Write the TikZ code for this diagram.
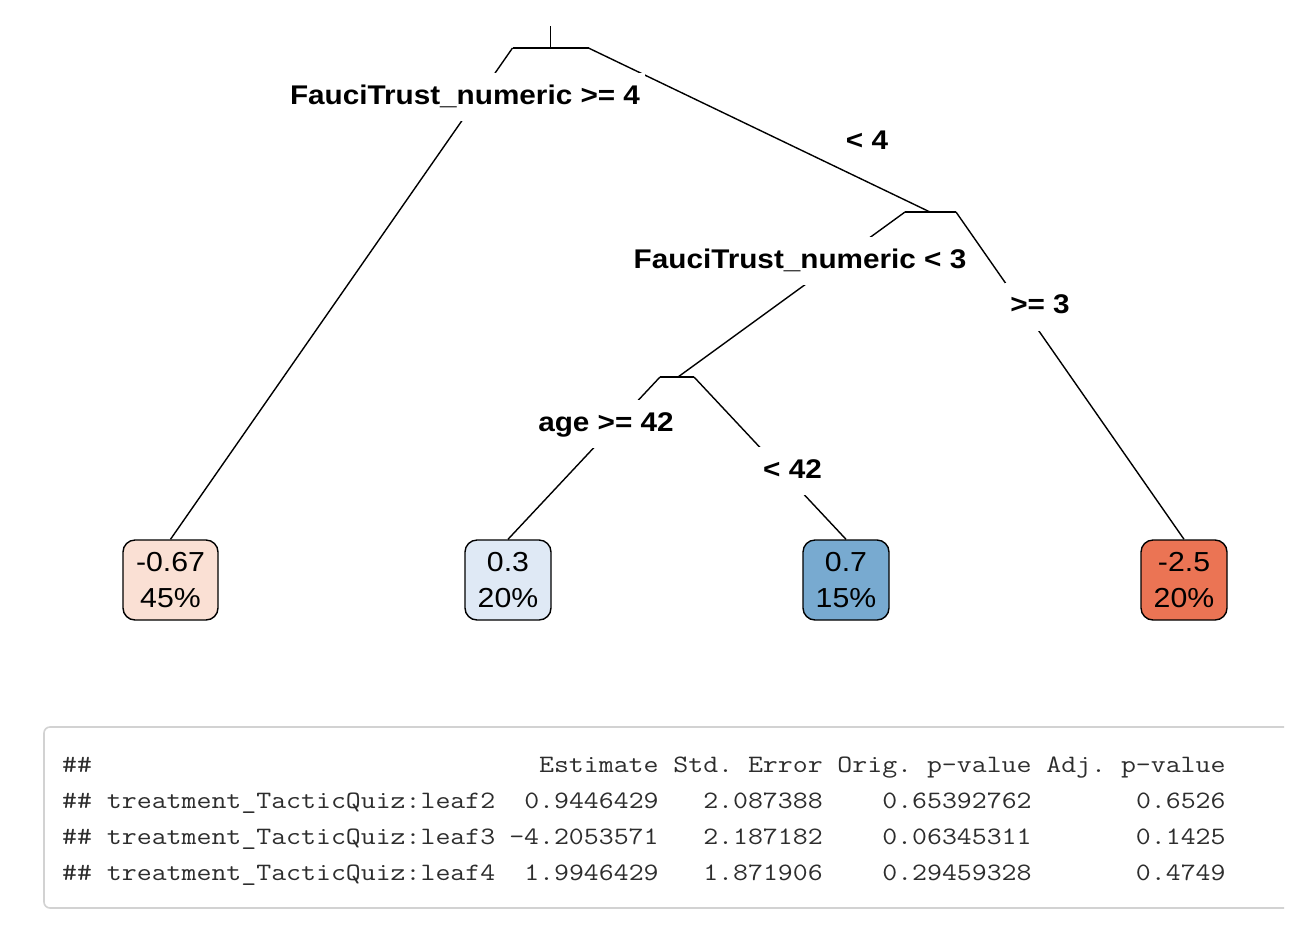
\documentclass[tikz,border=0pt]{standalone}
\usepackage{fontspec}
\setmainfont{Liberation Sans}
\newfontfamily\treefont[FakeStretch=1.1]{Liberation Sans}
\newfontfamily\codefont[FakeStretch=1.16]{Latin Modern Mono}
\definecolor{leafA}{RGB}{250,224,212}
\definecolor{leafB}{RGB}{223,233,245}
\definecolor{leafC}{RGB}{120,170,208}
\definecolor{leafD}{RGB}{235,116,84}
\definecolor{codeborder}{RGB}{210,210,210}
\definecolor{codetext}{RGB}{45,45,45}
\tikzset{
  branch/.style={draw=black, line width=1.4pt},
  splitlabel/.style={font=\treefont\bfseries\fontsize{27}{32}\selectfont, fill=white,
    inner xsep=5pt, inner ysep=11pt, text height=20pt, text depth=6pt, anchor=base},
  leafbox/.style={draw=black, line width=1.4pt, rounded corners=12pt, minimum height=80pt,
    minimum width=86pt, align=center, inner sep=0pt,
    font=\treefont\fontsize{27.5}{35.5}\selectfont},
  codecell/.style={font=\codefont\fontsize{25}{30}\selectfont\frenchspacing, text=codetext, inner sep=0pt, anchor=base east},
  codeleft/.style={codecell, anchor=base west}
}
\begin{document}
\begin{tikzpicture}[x=1pt,y=-1pt]
\useasboundingbox (0,0) rectangle (1316,930);
\fill[white] (0,0) rectangle (1316,930);

% code output box
\draw[codeborder, line width=1.6pt, rounded corners=6pt] (1284,727) -- (44,727) -- (44,908) -- (1284,908);

% tree coordinates
\coordinate (top) at (550.5,26);
\coordinate (r) at (550.5,48);
\coordinate (rL) at (512.5,48);
\coordinate (rR) at (588.5,48);
\coordinate (n2) at (930,212);
\coordinate (n2L) at (905,212);
\coordinate (n2R) at (956,212);
\coordinate (n3) at (678,377);
\coordinate (n3L) at (660,377);
\coordinate (n3R) at (694,377);

% leaves
\node[leafbox, fill=leafA, minimum width=95pt] (l1) at (170.5,580) {-0.67\\45\%};
\node[leafbox, fill=leafB] (l2) at (508,580) {0.3\\20\%};
\node[leafbox, fill=leafC] (l3) at (846,580) {0.7\\15\%};
\node[leafbox, fill=leafD] (l4) at (1184,580) {-2.5\\20\%};

% branches
\draw[branch] (top) -- (r);
\draw[branch] (rL) -- (rR);
\draw[branch] (rL) -- (l1.north);
\draw[branch] (rR) -- (n2);
\draw[branch] (n2L) -- (n2R);
\draw[branch] (n2L) -- (n3);
\draw[branch] (n2R) -- (l4.north);
\draw[branch] (n3L) -- (n3R);
\draw[branch] (n3L) -- (l2.north);
\draw[branch] (n3R) -- (l3.north);

% split labels
\node[splitlabel] (s1) at (465,104) {FauciTrust\_numeric >= 4};
\node[splitlabel] (s1r) at (867,149.5) {< 4};
\node[splitlabel] (s2) at (800,268) {FauciTrust\_numeric < 3};
\node[splitlabel] (s2r) at (1040,313.5) {>= 3};
\node[splitlabel] (s3) at (606,431) {age >= 42};
\node[splitlabel] (s3r) at (792.5,478) {< 42};

% code text
\def\cw{14.92}
\node[codeleft] (h0) at (62,772) {\#\#};
\node[codecell] (h1) at ({62+40*\cw},772) {Estimate};
\node[codecell] (h2) at ({62+51*\cw},772) {Std. Error};
\node[codecell] (h3) at ({62+65*\cw},772) {Orig. p-value};
\node[codecell] (h4) at ({62+78*\cw},772) {Adj. p-value};

\node[codeleft] (a0) at (62,808) {\#\# treatment\_TacticQuiz:leaf2};
\node[codecell] (a1) at ({62+40*\cw},808) {0.9446429};
\node[codecell] (a2) at ({62+51*\cw},808) {2.087388};
\node[codecell] (a3) at ({62+65*\cw},808) {0.65392762};
\node[codecell] (a4) at ({62+78*\cw},808) {0.6526};

\node[codeleft] (b0) at (62,844) {\#\# treatment\_TacticQuiz:leaf3};
\node[codecell] (b1) at ({62+40*\cw},844) {-4.2053571};
\node[codecell] (b2) at ({62+51*\cw},844) {2.187182};
\node[codecell] (b3) at ({62+65*\cw},844) {0.06345311};
\node[codecell] (b4) at ({62+78*\cw},844) {0.1425};

\node[codeleft] (c0) at (62,880) {\#\# treatment\_TacticQuiz:leaf4};
\node[codecell] (c1) at ({62+40*\cw},880) {1.9946429};
\node[codecell] (c2) at ({62+51*\cw},880) {1.871906};
\node[codecell] (c3) at ({62+65*\cw},880) {0.29459328};
\node[codecell] (c4) at ({62+78*\cw},880) {0.4749};
\end{tikzpicture}
\end{document}
